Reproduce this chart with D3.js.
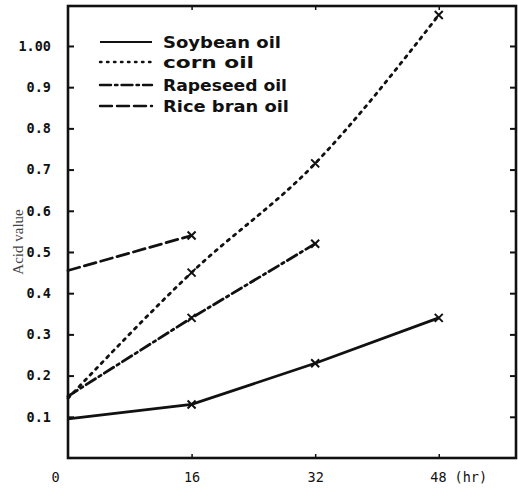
<!DOCTYPE html>
<html>
<head>
<meta charset="utf-8">
<script src="https://cdn.jsdelivr.net/npm/d3@7"></script>
<style>
  html, body { margin: 0; padding: 0; background: #fff; }
  svg { display: block; }
</style>
</head>
<body>
<svg id="chart" width="518" height="491"></svg>
<script>
// ---- data ----
const hours = [0, 16, 32, 48];
const soybean = [0.095, 0.13, 0.23, 0.34];
const corn = [0.145, 0.45, 0.715, 1.075];
const rapeseed = [0.15, 0.34, 0.52];
const riceBran = [0.455, 0.54];
const seriesNames = ["Soybean oil", "corn oil", "Rapeseed oil", "Rice bran oil"];
const yTickValues = [0.1, 0.2, 0.3, 0.4, 0.5, 0.6, 0.7, 0.8, 0.9, 1.0];
const yTickLabels = ["0.1", "0.2", "0.3", "0.4", "0.5", "0.6", "0.7", "0.8", "0.9", "1.00"];
const xTickValues = [0, 16, 32, 48];
const xTickLabels = ["0", "16", "32", "48"];
const xUnit = "(hr)";
const yTitle = "Acid value";

// ---- layout ----
const svg = d3.select("#chart");
const L = 68, R = 516, T = 6, B = 458;
const x = d3.scaleLinear().domain([0, 58]).range([L, R]);
const y = d3.scaleLinear().domain([0, 1.097]).range([B, T]);
const ink = "#111";
const mono = "'DejaVu Sans Mono', monospace";

// frame
svg.append("rect").attr("x", L).attr("y", T).attr("width", R - L).attr("height", B - T)
  .attr("fill", "none").attr("stroke", ink).attr("stroke-width", 2.6);

// left axis (ticks inward)
const gl = svg.append("g").attr("transform", `translate(${L},0)`)
  .call(d3.axisLeft(y).tickValues(yTickValues).tickSize(-6).tickSizeOuter(0)
    .tickFormat((d, i) => yTickLabels[i]).tickPadding(17));
gl.select(".domain").remove();
gl.selectAll("line").attr("stroke", ink).attr("stroke-width", 2);
gl.selectAll("text").attr("font-family", mono)
  .attr("font-weight", "bold").attr("font-size", 13.5).attr("fill", ink);

// right ticks (inward)
const gr = svg.append("g").attr("transform", `translate(${R},0)`)
  .call(d3.axisRight(y).tickValues(yTickValues).tickSize(-6).tickSizeOuter(0).tickFormat(""));
gr.select(".domain").remove();
gr.selectAll("line").attr("stroke", ink).attr("stroke-width", 2);

// bottom axis
const gb = svg.append("g").attr("transform", `translate(0,${B})`)
  .call(d3.axisBottom(x).tickValues(xTickValues).tickSize(-4).tickSizeOuter(0)
    .tickFormat((d, i) => xTickLabels[i]).tickPadding(14));
gb.select(".domain").remove();
gb.selectAll("line").attr("stroke", ink).attr("stroke-width", 1.5)
  .filter(d => d === 0).remove();
gb.selectAll("text").attr("font-family", mono)
  .attr("font-size", 13.5).attr("fill", ink);
gb.selectAll(".tick").filter(d => d === 0).select("text").attr("dx", -13);
gb.selectAll(".tick").filter(d => d === 48).select("text")
  .attr("text-anchor", "start").attr("dx", -9)
  .append("tspan").attr("dx", 8).text(xUnit);

// top ticks
const gt = svg.append("g").attr("transform", `translate(0,${T})`)
  .call(d3.axisTop(x).tickValues(xTickValues.slice(1)).tickSize(-4).tickSizeOuter(0).tickFormat(""));
gt.select(".domain").remove();
gt.selectAll("line").attr("stroke", ink).attr("stroke-width", 1.5);

// y title
svg.append("text").attr("transform", `translate(23,${242}) rotate(-90)`)
  .attr("text-anchor", "middle").attr("font-family", "'Liberation Serif', serif")
  .attr("font-size", 15).attr("fill", "#444").text(yTitle);

// ---- series ----
const series = [
  { name: seriesNames[0], vals: soybean, dash: null, curve: d3.curveLinear },
  { name: seriesNames[1], vals: corn, dash: "2.5,5.5", curve: d3.curveMonotoneX },
  { name: seriesNames[2], vals: rapeseed, dash: "11,4,2.5,4", curve: d3.curveLinear },
  { name: seriesNames[3], vals: riceBran, dash: "12,5", curve: d3.curveLinear }
];

series.forEach(s => {
  const pts = s.vals.map((v, i) => [hours[i], v]);
  const line = d3.line().x(d => x(d[0])).y(d => y(d[1])).curve(s.curve);
  svg.append("path").attr("d", line(pts)).attr("fill", "none")
    .attr("stroke", ink).attr("stroke-width", 2.8)
    .attr("stroke-linecap", s.dash ? "round" : "butt")
    .attr("stroke-dasharray", s.dash);
  // x markers at non-zero times
  pts.slice(1).forEach(p => {
    const cx = x(p[0]), cy = y(p[1]), r = 4;
    svg.append("path")
      .attr("d", `M${cx - r},${cy - r}L${cx + r},${cy + r}M${cx - r},${cy + r}L${cx + r},${cy - r}`)
      .attr("stroke", ink).attr("stroke-width", 2);
  });
});

// ---- legend ----
const legY = [42, 62, 85, 106];
const legTextW = [118, 91, 124, 126];
series.forEach((s, i) => {
  svg.append("line").attr("x1", 100).attr("x2", 152).attr("y1", legY[i]).attr("y2", legY[i])
    .attr("stroke", ink).attr("stroke-width", s.dash ? 2.4 : 2.2)
    .attr("stroke-linecap", s.dash ? "round" : "butt")
    .attr("stroke-dasharray", s.dash ? (i === 1 ? "1.5,5.5" : s.dash) : null);
  svg.append("text").attr("x", 163).attr("y", legY[i] + 6)
    .attr("font-family", "'DejaVu Sans', sans-serif").attr("font-size", 16)
    .attr("font-weight", "bold")
    .attr("fill", ink).attr("textLength", legTextW[i]).attr("lengthAdjust", "spacingAndGlyphs")
    .text(s.name);
});
</script>
</body>
</html>
